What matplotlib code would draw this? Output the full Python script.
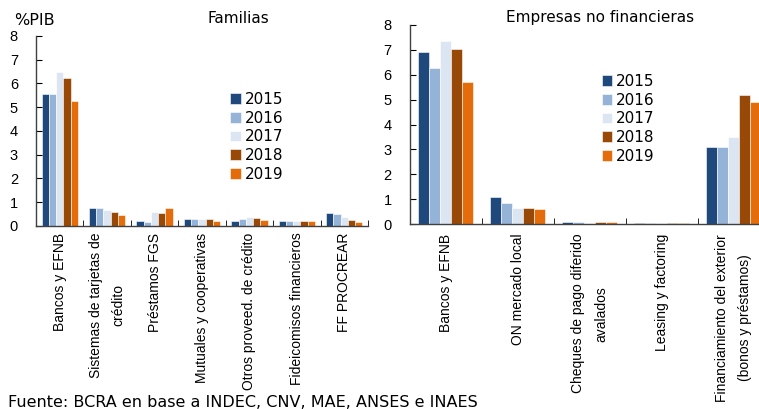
import numpy as np
import matplotlib.pyplot as plt

plt.rcParams['font.family'] = ['Liberation Sans', 'DejaVu Sans']

years = ['2015', '2016', '2017', '2018', '2019']
colors = ['#1F497D', '#95B3D7', '#DCE6F2', '#984807', '#E46C0A']

fam_cats = ['Bancos y EFNB', 'Sistemas de tarjetas de\ncrédito', 'Préstamos FGS',
            'Mutuales y cooperativas', 'Otros proveed. de crédito',
            'Fideicomisos financieros', 'FF PROCREAR']
fam_2015 = [5.55, 0.77, 0.20, 0.28, 0.18, 0.22, 0.55]
fam_2016 = [5.55, 0.74, 0.15, 0.28, 0.30, 0.20, 0.48]
fam_2017 = [6.50, 0.68, 0.60, 0.28, 0.38, 0.20, 0.38]
fam_2018 = [6.22, 0.60, 0.55, 0.28, 0.32, 0.18, 0.25]
fam_2019 = [5.26, 0.47, 0.76, 0.22, 0.25, 0.18, 0.15]

emp_cats = ['Bancos y EFNB', 'ON mercado local', 'Cheques de pago diferido\navalados',
            'Leasing y factoring', 'Financiamiento del exterior\n(bonos y préstamos)']
emp_2015 = [6.90, 1.10, 0.10, 0.06, 3.08]
emp_2016 = [6.29, 0.86, 0.09, 0.05, 3.10]
emp_2017 = [7.37, 0.66, 0.06, 0.04, 3.49]
emp_2018 = [7.02, 0.66, 0.10, 0.06, 5.20]
emp_2019 = [5.71, 0.62, 0.10, 0.06, 4.90]

wide = ['DejaVu Sans']


def panel(ax, cats, series, leg_pos, xpad):
    x = np.arange(len(cats))
    w = 0.153
    for i, vals in enumerate(series):
        ax.bar(x + (i - 2) * w, vals, w, color=colors[i], edgecolor='white',
               linewidth=0.4, label=years[i])
    ax.set_xlim(-0.5, len(cats) - 0.5)
    ax.set_ylim(0, 8)
    ax.set_yticks(range(0, 9))
    ax.tick_params(axis='y', direction='in', length=4, labelsize=10.5, pad=13)
    ax.set_xticks(x)
    ax.set_xticklabels(cats, rotation=90, fontsize=10, ha='center', va='top',
                       multialignment='center', linespacing=1.8)
    ax.tick_params(axis='x', length=0, pad=xpad)
    ax.set_xticks(np.arange(0.5, len(cats) - 0.4, 1), minor=True)
    ax.tick_params(axis='x', which='minor', direction='in', length=4)
    for s in ['top', 'right']:
        ax.spines[s].set_visible(False)
    for s in ['left', 'bottom']:
        ax.spines[s].set_color('#404040')
        ax.spines[s].set_linewidth(1.0)
    ax.legend(frameon=False, loc='upper left', bbox_to_anchor=leg_pos,
              prop={'family': wide, 'size': 11},
              handlelength=0.7, handleheight=0.7, handletextpad=0.25,
              labelspacing=0.24, borderpad=0, borderaxespad=0)


fig = plt.figure(figsize=(7.59, 4.09), dpi=100)
ax1 = fig.add_axes([0.0474, 0.448, 0.4374, 0.464])
ax2 = fig.add_axes([0.540, 0.452, 0.474, 0.487])

panel(ax1, fam_cats, [fam_2015, fam_2016, fam_2017, fam_2018, fam_2019],
      (0.585, 0.705), 5)
panel(ax2, emp_cats, [emp_2015, emp_2016, emp_2017, emp_2018, emp_2019],
      (0.533, 0.754), 7)
ax1.set_title('Familias', family=wide, fontsize=11, pad=9, x=0.61)
ax2.set_title('Empresas no financieras', family=wide, fontsize=11, pad=2, x=0.528)

fig.text(0.018, 0.951, '%PIB', family=wide, fontsize=11.5, va='center')
fig.text(0.011, 0.015, 'Fuente: BCRA en base a INDEC, CNV, MAE, ANSES e INAES',
         family=wide, fontsize=11.5, va='center')

fig.savefig('out.png', dpi=100)
